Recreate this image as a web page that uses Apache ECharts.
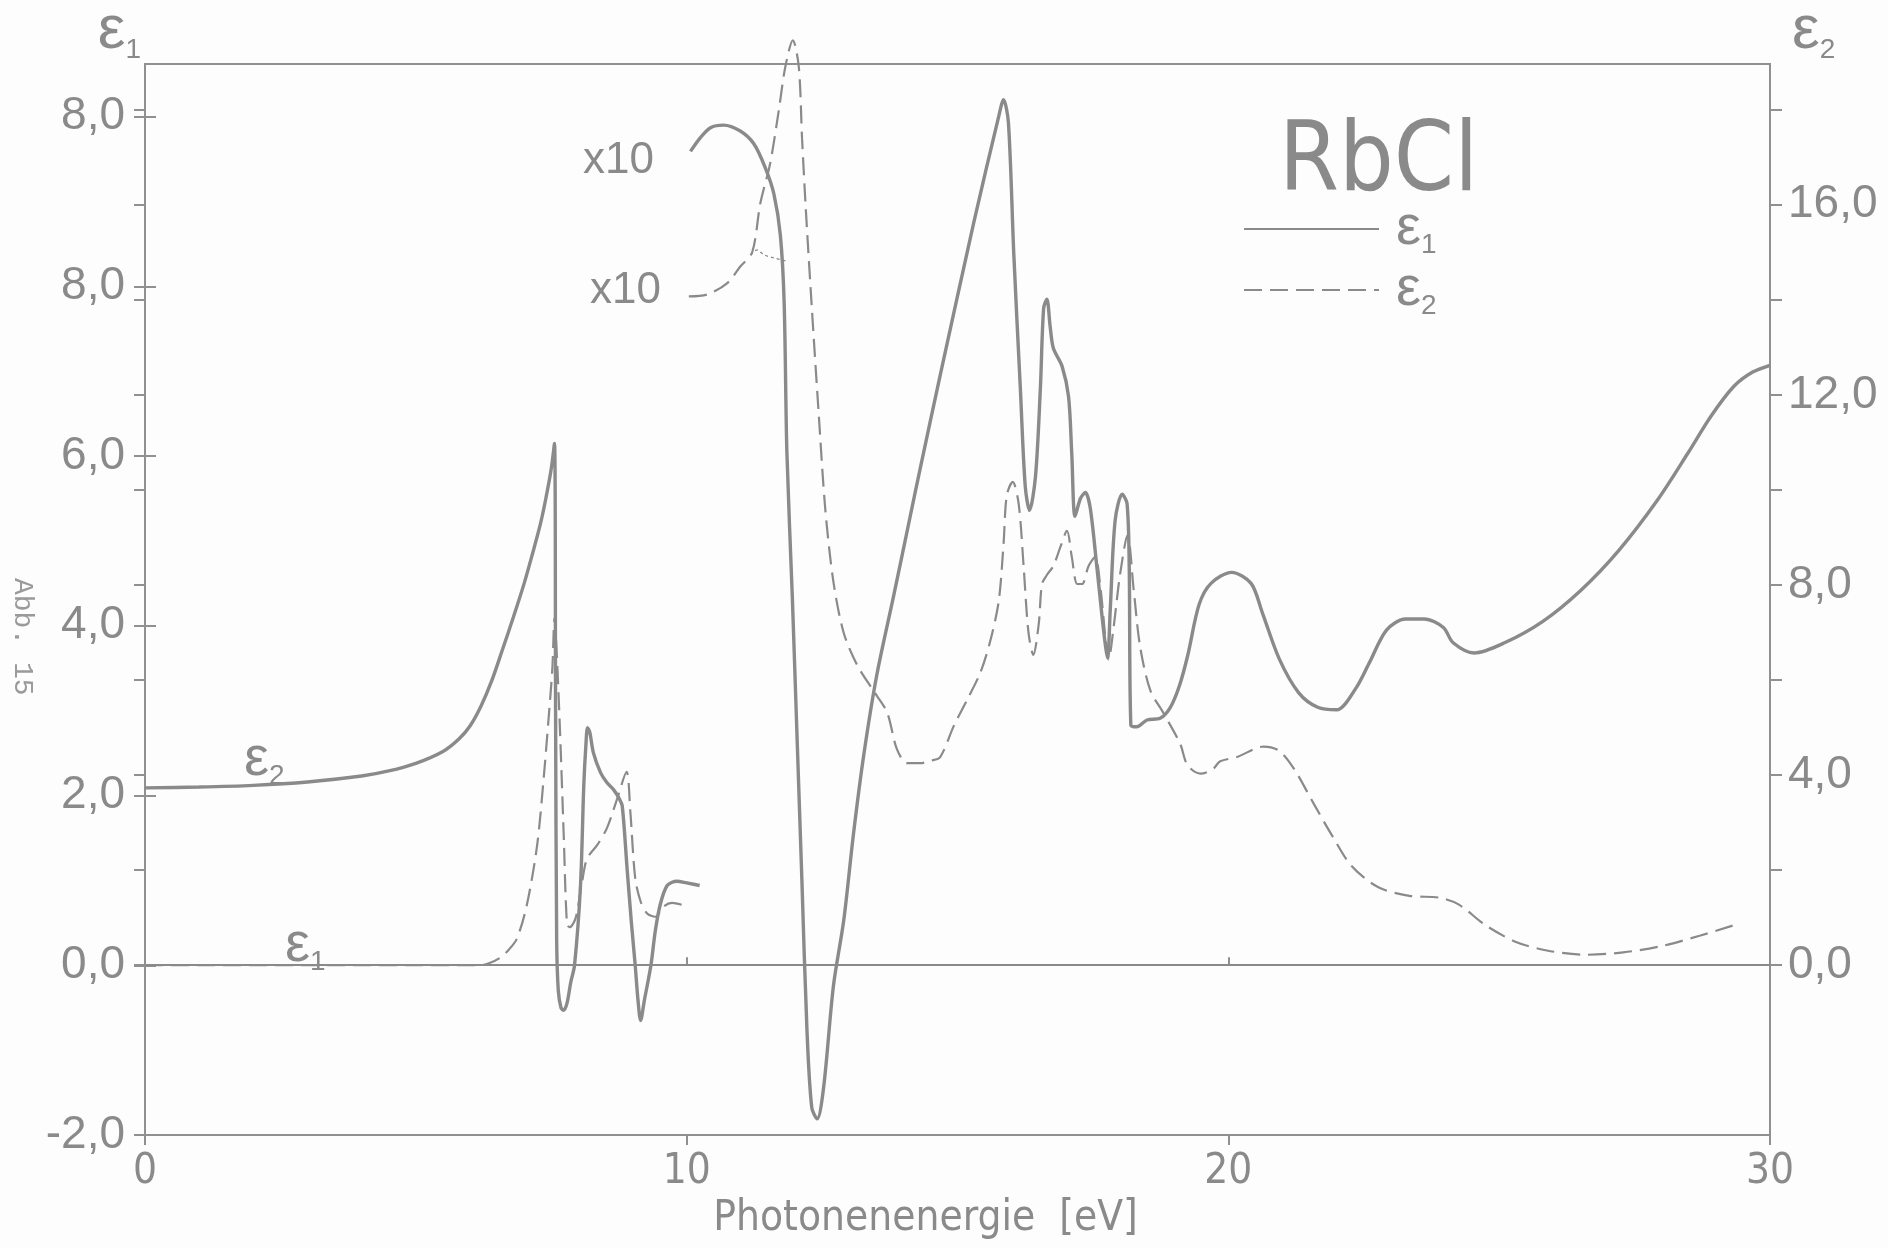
<!DOCTYPE html>
<html><head><meta charset="utf-8">
<script src="https://cdn.jsdelivr.net/npm/echarts@6/dist/echarts.min.js"></script>
<style>html,body{margin:0;padding:0;background:#fdfdfd}#c{width:1888px;height:1248px}</style>
</head><body><div id="c"></div><script>
// ---- data (photon energy in eV) ----
const e1LowX = [0,1,2,3,4,4.5,5,5.5,5.8,6.0,6.2,6.4,6.6,6.8,7.0,7.15,7.3,7.4,7.5,7.56,7.58,7.6,7.63,7.68,7.73,7.79,7.86,7.93,8.04,8.1,8.14,8.17,8.21,8.28,8.41,8.53,8.65,8.75,8.81,8.9,8.98,9.05,9.1,9.15,9.22,9.34,9.42,9.51,9.64,9.82,10.0,10.24];
const e1LowY = [2.09,2.1,2.12,2.16,2.23,2.29,2.38,2.52,2.67,2.82,3.05,3.35,3.72,4.1,4.5,4.84,5.2,5.5,5.85,6.15,3.0,0.3,-0.3,-0.5,-0.53,-0.45,-0.2,0,0.94,2.11,2.6,2.8,2.75,2.5,2.27,2.15,2.07,1.97,1.88,1.14,0.5,0,-0.4,-0.65,-0.41,0,0.4,0.71,0.94,0.99,0.97,0.94];
const e1HighX = [10.07,10.25,10.44,10.68,10.99,11.24,11.45,11.61,11.73,11.8,11.85,11.95,12.04,12.13,12.22,12.31,12.41,12.53,12.71,12.9,13.08,13.27,13.51,13.82,14.13,14.31,14.68,15.3,15.76,15.85,15.94,16.04,16.16,16.25,16.33,16.44,16.53,16.59,16.65,16.71,16.77,16.93,17.05,17.11,17.17,17.27,17.36,17.45,17.57,17.7,17.77,17.82,17.91,18.04,18.13,18.17,18.2,18.31,18.5,18.74,18.93,19.1,19.25,19.46,19.68,20.06,20.42,20.63,20.94,21.3,21.65,22.0,22.35,22.6,22.92,23.27,23.62,23.97,24.15,24.54,25.1,25.8,26.51,27.21,27.92,28.48,28.91,29.33,29.68,30.0];
const e1HighY = [9.59,9.75,9.87,9.9,9.83,9.68,9.4,9.09,8.6,7.8,6.05,4.35,2.65,0.95,-0.75,-1.68,-1.81,-1.43,-0.24,0.53,1.55,2.48,3.42,4.35,5.3,5.85,6.95,8.75,10.0,10.2,9.93,8.37,6.8,5.65,5.36,5.76,6.8,7.74,7.85,7.53,7.27,7.06,6.7,6.02,5.29,5.5,5.57,5.39,4.71,3.93,3.62,4.19,5.24,5.55,5.44,4.71,2.83,2.81,2.89,2.91,3.04,3.3,3.65,4.25,4.5,4.63,4.5,4.15,3.61,3.21,3.04,3.01,3.26,3.56,3.95,4.08,4.08,3.98,3.8,3.68,3.8,4.05,4.42,4.89,5.48,6.03,6.47,6.82,6.99,7.07];
const e2LowX = [0,1,2,3,4,5,6,6.2,6.35,6.56,6.72,6.87,7.05,7.24,7.36,7.45,7.52,7.56,7.6,7.66,7.73,7.79,7.84,7.95,8.07,8.16,8.35,8.53,8.72,8.89,8.96,9.05,9.15,9.27,9.42,9.58,9.73,9.91];
const e2LowY = [0,0,0,0,0,0,0,0,0.04,0.16,0.33,0.57,1.27,2.53,3.93,5.18,6.24,7.3,6.6,4.98,2.74,0.86,0.8,0.99,1.76,2.24,2.53,2.89,3.51,4.07,3.23,1.83,1.34,1.09,1.02,1.24,1.31,1.27];
const e2HighX = [10.04,10.38,10.75,10.99,11.21,11.36,11.54,11.7,11.82,11.96,12.07,12.13,12.2,12.31,12.44,12.56,12.71,12.9,13.15,13.45,13.7,13.88,14.07,14.31,14.5,14.68,14.93,15.18,15.42,15.6,15.76,15.85,15.91,16.02,16.13,16.22,16.31,16.4,16.5,16.56,16.65,16.77,16.9,17.02,17.11,17.21,17.3,17.42,17.54,17.64,17.73,17.79,17.88,18.0,18.14,18.25,18.37,18.56,18.8,19.11,19.25,19.49,19.71,19.85,20.16,20.65,20.94,21.22,21.57,21.93,22.28,22.77,23.34,23.9,24.25,24.75,25.31,25.88,26.58,27.29,27.99,28.7,29.33];
const e2HighY = [14.07,14.11,14.35,14.7,15.0,16.03,16.86,17.98,18.89,19.46,18.9,17.4,15.9,13.84,11.56,9.58,8.06,6.99,6.31,5.77,5.32,4.55,4.25,4.25,4.3,4.38,5.03,5.59,6.15,6.8,7.65,8.86,9.89,10.17,9.7,8.4,7.0,6.53,7.18,8.02,8.21,8.4,8.8,9.14,8.59,8.02,8.02,8.4,8.59,7.93,6.9,6.43,7.09,8.21,9.05,7.93,6.71,5.78,5.31,4.66,4.2,4.03,4.12,4.29,4.38,4.6,4.51,4.12,3.41,2.7,2.08,1.64,1.46,1.42,1.28,0.84,0.49,0.31,0.22,0.27,0.4,0.62,0.84];
const e2TailX = [11.18,11.3,11.42,11.61,11.85];
const e2TailY = [14.95,15.05,14.95,14.88,14.81];
const xTickValues = [0,10,20,30];
const leftTickValues = [-2,0,2,4,6,8,10];
const leftTickLabels = ['-2,0','0,0','2,0','4,0','6,0','8,0','8,0'];
const rightTickValues = [0,2,4,6,8,10,12,14,16,18];
const rightLabelValues = [0,4,8,12,16];
const rightTickLabels = ['0,0','4,0','8,0','12,0','16,0'];

// ---- style ----
const INK = '#8a8a8a';
const AX = '#909090';
const FONT = "'Liberation Sans', Arial, sans-serif";
const NARROW = "'Liberation Sans Narrow', 'DejaVu Sans Condensed', 'Liberation Sans', sans-serif";
const zip = (xs, ys) => xs.map((x, i) => [x, ys[i]]);
function epsRichFor(key, big, small, gap) {
  const r = {
    g: {width: gap || 0},
    e: {fontSize: big, fontFamily: FONT, lineHeight: big + 4},
    s: {fontSize: small, fontFamily: FONT, verticalAlign: 'bottom', lineHeight: small + 4}
  };
  Object.keys(r).forEach(k => { r[k][key] = INK; });
  return r;
}
const axisRich = epsRichFor('color', 62, 28, 0);
const legRich = epsRichFor('color', 56, 28, 12);
const curveRich = epsRichFor('fill', 56, 28, 0);

const chart = echarts.init(document.getElementById('c'), null, {renderer: 'canvas'});
const lineBase = {type: 'line', symbol: 'none', showSymbol: false, smooth: 0.3, clip: false, silent: true, animation: false};
const solidStyle = {color: INK, width: 3.4};
const dashStyle = {color: INK, width: 2.2, type: [18, 8]};

const yLeftCommon = {type: 'value', min: -2, max: 10.62, position: 'left', splitLine: {show: false}};
const yRightCommon = {type: 'value', min: -3.572, max: 18.96, position: 'right', splitLine: {show: false}};

chart.setOption({
  backgroundColor: '#fdfdfd',
  animation: false,
  color: [INK],
  title: {text: 'RbCl', left: 1274, top: 112, textStyle: {fontSize: 96, fontFamily: NARROW, color: '#8a8a8a', fontWeight: 'normal'}},
  grid: {left: 145, right: 118, top: 60, bottom: 113, show: true, borderColor: AX, borderWidth: 2, containLabel: false},
  legend: {
    data: ['ε1', 'ε2'], orient: 'vertical', left: 1238, top: 196, itemWidth: 135, itemHeight: 4, itemGap: 3,
    selectedMode: false,
    itemStyle: {color: 'rgba(0,0,0,0)', borderWidth: 0},
    formatter: n => n === 'ε1' ? '{g|}{e|ε}{s|1}' : '{g|}{e|ε}{s|2}',
    textStyle: {rich: legRich, color: INK}
  },
  xAxis: [{
    type: 'value', min: 0, max: 30, interval: 10,
    axisLine: {show: true, onZero: false, lineStyle: {color: AX, width: 2}},
    axisTick: {show: true, length: 10, lineStyle: {color: AX, width: 2}, customValues: xTickValues},
    axisLabel: {fontSize: 42, fontFamily: NARROW, color: INK, margin: 16, customValues: xTickValues},
    splitLine: {show: false},
    name: 'Photonenenergie  [eV]', nameLocation: 'middle', nameGap: 54,
    nameTextStyle: {fontSize: 42, fontFamily: NARROW, color: INK, padding: [0, 64, 0, 0]}
  }, {
    type: 'value', min: 0, max: 30, interval: 10, position: 'bottom',
    axisLine: {show: false}, axisLabel: {show: false}, splitLine: {show: false},
    axisTick: {show: true, inside: true, length: 8, lineStyle: {color: AX, width: 2}, customValues: [10, 20]}
  }],
  yAxis: [Object.assign({}, yLeftCommon, {
    axisLine: {show: true, onZero: false, lineStyle: {color: AX, width: 2}},
    axisTick: {show: true, length: 11, lineStyle: {color: AX, width: 2}, customValues: leftTickValues},
    axisLabel: {customValues: leftTickValues, formatter: v => leftTickLabels[leftTickValues.indexOf(v)] || '',
      fontSize: 46, fontFamily: FONT, color: INK, margin: 20},
    name: '{e|ε}{s|1}', nameLocation: 'end', nameGap: 0,
    nameTextStyle: {align: 'right', padding: [0, 4, 0, 0], rich: axisRich}
  }), Object.assign({}, yRightCommon, {
    axisLine: {show: true, onZero: false, lineStyle: {color: AX, width: 2}},
    axisTick: {show: true, length: 12, lineStyle: {color: AX, width: 2}, customValues: rightTickValues},
    axisLabel: {customValues: rightLabelValues, formatter: v => rightTickLabels[rightLabelValues.indexOf(v)] || '',
      fontSize: 46, fontFamily: FONT, color: INK, margin: 18},
    name: '{e|ε}{s|2}', nameLocation: 'end', nameGap: 0,
    nameTextStyle: {align: 'left', padding: [0, 0, 0, 22], rich: axisRich}
  }), Object.assign({}, yLeftCommon, {
    axisLine: {show: false}, axisLabel: {show: false},
    axisTick: {show: true, inside: true, length: 11, lineStyle: {color: AX, width: 2}, customValues: leftTickValues}
  }), Object.assign({}, yRightCommon, {
    axisLine: {show: false}, axisLabel: {show: false},
    axisTick: {show: true, inside: true, length: 11, lineStyle: {color: AX, width: 2}, customValues: rightTickValues}
  })],
  series: [
    Object.assign({}, lineBase, {name: 'ε1', yAxisIndex: 0, data: zip(e1LowX, e1LowY), lineStyle: solidStyle, itemStyle: {color: INK}}),
    Object.assign({}, lineBase, {name: 'ε1', yAxisIndex: 0, data: zip(e1HighX, e1HighY), lineStyle: solidStyle, itemStyle: {color: INK}}),
    Object.assign({}, lineBase, {name: 'ε2', yAxisIndex: 1, data: zip(e2LowX, e2LowY), lineStyle: dashStyle, itemStyle: {color: INK},
      markLine: {silent: true, symbol: ['none', 'none'], label: {show: false}, animation: false,
        lineStyle: {color: INK, width: 2, type: 'solid'}, data: [{yAxis: 0}]}}),
    Object.assign({}, lineBase, {name: 'ε2', yAxisIndex: 1, data: zip(e2HighX, e2HighY), lineStyle: dashStyle, itemStyle: {color: INK}}),
    Object.assign({}, lineBase, {name: 'x10 tail', yAxisIndex: 1, data: zip(e2TailX, e2TailY), lineStyle: {color: INK, width: 1.3, type: [3, 3]}, itemStyle: {color: INK}})
  ],
  graphic: [
    {type: 'text', x: 583, y: 139, silent: true, style: {text: 'x10', font: '44px ' + FONT, fill: INK}},
    {type: 'text', x: 590, y: 269, silent: true, style: {text: 'x10', font: '44px ' + FONT, fill: INK}},
    {type: 'text', x: 244, y: 730, silent: true, style: {text: '{e|ε}{s|2}', rich: curveRich}},
    {type: 'text', x: 285, y: 916, silent: true, style: {text: '{e|ε}{s|1}', rich: curveRich}},
    {type: 'text', x: 36, y: 578, rotation: -Math.PI / 2, silent: true,
      style: {text: 'Abb. 15', font: '28px "Liberation Mono", monospace', fill: '#9a9a9a'}}
  ]
});
</script></body></html>
